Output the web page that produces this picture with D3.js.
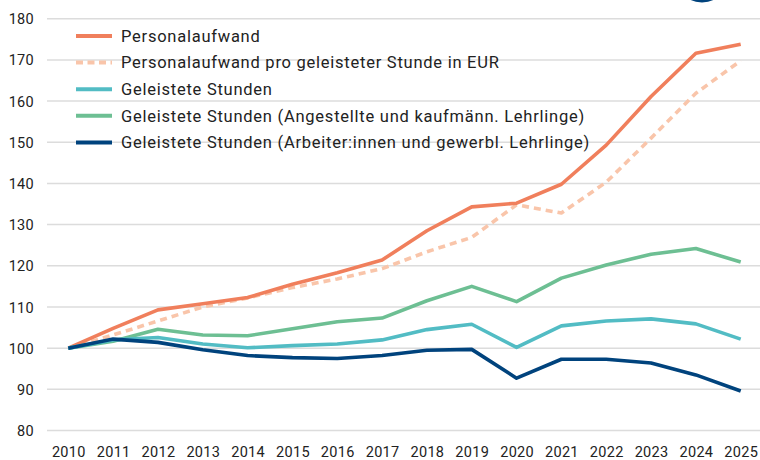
<!DOCTYPE html>
<html>
<head>
<meta charset="utf-8">
<script src="https://cdn.jsdelivr.net/npm/d3@7"></script>
<style>
  body { margin: 0; background: #fff; }
  svg text { font-family: Roboto, "DejaVu Sans", sans-serif; fill: #222; }
</style>
</head>
<body>
<div id="chart"></div>
<script>
// data (index 2010 = 100)
var years = [2010, 2011, 2012, 2013, 2014, 2015, 2016, 2017, 2018, 2019, 2020, 2021, 2022, 2023, 2024, 2025];
var personalaufwand   = [100, 104.8, 109.3, 110.8, 112.3, 115.5, 118.3, 121.4, 128.5, 134.3, 135.2, 139.8, 149.3, 161.1, 171.6, 173.8];
var proStunde         = [100, 103.2, 106.6, 110.0, 112.2, 114.7, 116.8, 119.3, 123.4, 126.9, 134.8, 132.8, 140.3, 151.0, 161.9, 169.8];
var stunden           = [100, 102.0, 102.6, 101.0, 100.1, 100.6, 101.0, 102.0, 104.5, 105.8, 100.2, 105.4, 106.6, 107.1, 105.9, 102.2];
var stundenAngest     = [100, 101.7, 104.6, 103.2, 103.0, 104.7, 106.4, 107.3, 111.5, 115.0, 111.3, 117.0, 120.2, 122.8, 124.2, 120.9];
var stundenArbeiter   = [100, 102.2, 101.4, 99.6, 98.2, 97.7, 97.5, 98.2, 99.5, 99.7, 92.7, 97.3, 97.3, 96.4, 93.5, 89.6];
var yTicks = [80, 90, 100, 110, 120, 130, 140, 150, 160, 170, 180];

var seriesNames = [
  'Personalaufwand',
  'Personalaufwand pro geleisteter Stunde in EUR',
  'Geleistete Stunden',
  'Geleistete Stunden (Angestellte und kaufmänn. Lehrlinge)',
  'Geleistete Stunden (Arbeiter:innen und gewerbl. Lehrlinge)'
];
var seriesValues = [personalaufwand, proStunde, stunden, stundenAngest, stundenArbeiter];
var seriesColors = ['#f07f5c', '#f9c5aa', '#52bcc4', '#6dbf93', '#00437d'];
var seriesDash   = [null, '7,5', null, null, null];

var width = 760, height = 460;

var svg = d3.select('#chart').append('svg')
    .attr('width', width)
    .attr('height', height);

var x = d3.scalePoint()
    .domain(years)
    .range([68.3, 740.7]);

var y = d3.scaleLinear()
    .domain([80, 180])
    .range([430.5, 18.7]);

// logo fragment top right
svg.append('ellipse')
    .attr('cx', 702).attr('cy', -6)
    .attr('rx', 16).attr('ry', 8.5)
    .attr('fill', '#00437d');

// grid lines
svg.append('g')
    .selectAll('line')
    .data(yTicks)
    .enter().append('line')
    .attr('x1', 47).attr('x2', width)
    .attr('y1', function(d) { return y(d); })
    .attr('y2', function(d) { return y(d); })
    .attr('stroke', '#dcdcdc')
    .attr('stroke-width', 1.5);

// y axis
var yAxis = d3.axisLeft(y).tickValues(yTicks).tickSize(0).tickPadding(0);
var gy = svg.append('g')
    .attr('transform', 'translate(34,0)')
    .call(yAxis);
gy.select('.domain').remove();
gy.selectAll('text')
    .style('font-size', '14.5px')
    .style('letter-spacing', '0.3px')
    .attr('fill', '#222')
    .attr('dy', '0.35em');

// x axis
var xAxis = d3.axisBottom(x).tickSize(0).tickPadding(0);
var gx = svg.append('g')
    .attr('transform', 'translate(0,445)')
    .call(xAxis);
gx.select('.domain').remove();
gx.selectAll('text')
    .style('font-size', '14.5px')
    .style('letter-spacing', '0.3px')
    .attr('fill', '#222')
    .attr('dy', '0.8em');

// lines
var line = d3.line()
    .x(function(d, i) { return x(years[i]); })
    .y(function(d) { return y(d); });

// draw in order so navy / teal sit on top like the reference
var drawOrder = [1, 0, 3, 2, 4];
drawOrder.forEach(function(k) {
  svg.append('path')
      .datum(seriesValues[k])
      .attr('fill', 'none')
      .attr('stroke', seriesColors[k])
      .attr('stroke-width', 3.6)
      .attr('stroke-linejoin', 'round')
      .attr('stroke-dasharray', seriesDash[k])
      .attr('d', line);
});

// legend
var legend = svg.append('g')
    .selectAll('g')
    .data(seriesNames)
    .enter().append('g')
    .attr('transform', function(d, i) {
      return 'translate(76,' + (36 + i * 26.6) + ')';
    });

legend.append('line')
    .attr('x1', 0).attr('x2', 36)
    .attr('y1', 0).attr('y2', 0)
    .attr('stroke', function(d, i) { return seriesColors[i]; })
    .attr('stroke-width', 4)
    .attr('stroke-dasharray', function(d, i) { return seriesDash[i] ? '7,4.5' : null; });

legend.append('text')
    .attr('x', 45)
    .attr('y', 0)
    .attr('dy', '0.35em')
    .style('font-size', '16.5px')
    .style('letter-spacing', '0.75px')
    .text(function(d) { return d; });
</script>
</body>
</html>
